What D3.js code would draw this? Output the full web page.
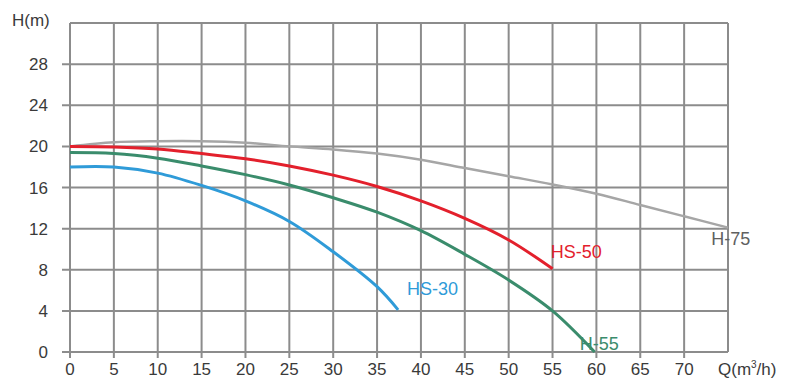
<!DOCTYPE html>
<html><head><meta charset="utf-8">
<script src="https://cdn.jsdelivr.net/npm/d3@7"></script>
<style>body{margin:0;background:#fff;} text{font-family:"Liberation Sans",Arial,sans-serif;}</style>
</head><body><svg id="c" width="800" height="378"></svg>
<script>
const xTicks = [0,5,10,15,20,25,30,35,40,45,50,55,60,65,70];
const yTicks = [0,4,8,12,16,20,24,28];
const seriesNames = ["H-75","HS-50","H-55","HS-30"];
const seriesColors = ["#a6a6a6","#e3202c","#3a8c6c","#2f9bd8"];
const labelColors = ["#606060","#e3202c","#3a8c6c","#2f9bd8"];
const h75 = [[0,20],[5,20.4],[10,20.5],[15,20.5],[20,20.35],[25,20],[30,19.7],[35,19.3],[40,18.7],[45,17.9],[50,17.1],[55,16.3],[60,15.4],[65,14.3],[70,13.2],[75,12.1]];
const hs50 = [[0,20],[5,19.95],[10,19.75],[15,19.3],[20,18.8],[25,18.1],[30,17.2],[35,16.1],[40,14.7],[45,13.0],[50,10.9],[55,8.1]];
const h55 = [[0,19.4],[5,19.3],[10,18.85],[15,18.1],[20,17.25],[25,16.25],[30,15.0],[35,13.6],[40,11.8],[45,9.5],[50,7.0],[55,4.0],[59.8,0]];
const hs30 = [[0,18],[5,18],[10,17.4],[15,16.2],[20,14.7],[25,12.7],[30,9.75],[35,6.35],[37.4,4.1]];
const seriesData = [h75, hs50, h55, hs30];
const labelPos = [[73.1,10.4],[54.8,9.15],[58.1,0.2],[38.4,5.55]];

const svg = d3.select("#c");
const x = d3.scaleLinear().domain([0,75]).range([70,728]);
const y = d3.scaleLinear().domain([0,32]).range([352,23]);
const gridC = "#8c8c8c";
const g = svg.append("g");
g.selectAll("line.v").data(xTicks.concat([75])).join("line")
  .attr("x1",d=>x(d)).attr("x2",d=>x(d)).attr("y1",y(32)).attr("y2",d=>d===75?y(0):y(0)+6)
  .attr("stroke",gridC).attr("stroke-width",2);
g.selectAll("line.h").data(yTicks.concat([32])).join("line")
  .attr("y1",d=>y(d)).attr("y2",d=>y(d)).attr("x1",d=>d===32?x(0):x(0)-8).attr("x2",x(75))
  .attr("stroke",gridC).attr("stroke-width",2);
g.selectAll("text.xt").data(xTicks).join("text")
  .attr("x",d=>x(d)).attr("y",375).attr("text-anchor","middle")
  .attr("font-size",17).attr("fill","#3a3a3a").text(d=>d);
g.selectAll("text.yt").data(yTicks).join("text")
  .attr("x",48).attr("y",d=>y(d)+6).attr("text-anchor","end")
  .attr("font-size",17).attr("fill","#3a3a3a").text(d=>d);
svg.append("text").attr("x",12).attr("y",26).attr("font-size",17).attr("fill","#3a3a3a").text("H(m)");
const q = svg.append("text").attr("x",718).attr("y",375).attr("font-size",17).attr("fill","#3a3a3a");
q.append("tspan").text("Q(m");
q.append("tspan").attr("font-size",10).attr("dy",-7).text("3");
q.append("tspan").attr("dy",7).text("/h)");
const line = d3.line().x(d=>x(d[0])).y(d=>y(d[1])).curve(d3.curveCatmullRom.alpha(0.5));
seriesData.forEach((s,i)=>{
  svg.append("path").attr("d",line(s)).attr("fill","none")
    .attr("stroke",seriesColors[i]).attr("stroke-width",i===0?2.5:3);
});
seriesData.forEach((s,i)=>{
  const lp = labelPos[i];
  svg.append("text").attr("x",x(lp[0])).attr("y",y(lp[1]))
    .attr("font-size",18).attr("fill",labelColors[i]).text(seriesNames[i]);
});
</script></body></html>
